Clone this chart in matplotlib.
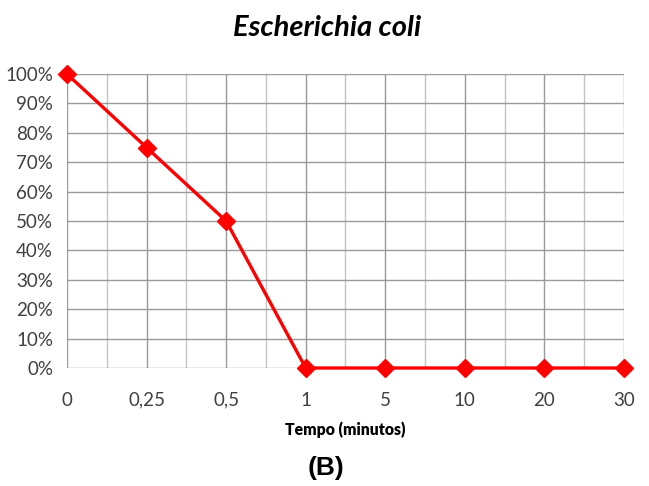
import matplotlib
matplotlib.use("Agg")
import matplotlib.pyplot as plt
from matplotlib.ticker import PercentFormatter, MultipleLocator

# data
tempo = ["0", "0,25", "0,5", "1", "5", "10", "20", "30"]
sobrevivencia = [1.00, 0.75, 0.50, 0.0, 0.0, 0.0, 0.0, 0.0]

narrow = ["Lato", "DejaVu Sans"]

fig = plt.figure(figsize=(6.49, 4.86), dpi=100)
ax = fig.add_axes([0.1032, 0.2428, 0.8582, 0.6049])

x = list(range(len(tempo)))
ax.plot(x, sobrevivencia, color="#ff0000", lw=2.4, marker="D", ms=9,
        mec="#ff0000", mfc="#ff0000", zorder=3, clip_on=False)

ax.set_xlim(0, len(tempo) - 1)
ax.set_ylim(0, 1)
ax.set_xticks(x)
ax.set_xticklabels(tempo)
ax.xaxis.set_minor_locator(MultipleLocator(0.5))
ax.yaxis.set_major_locator(MultipleLocator(0.1))
ax.yaxis.set_major_formatter(PercentFormatter(1.0, decimals=0))

ax.grid(True, which="major", color="#9a9a9a", lw=1)
ax.grid(True, which="minor", axis="x", color="#c4c4c4", lw=1)
for s in ax.spines.values():
    s.set_visible(False)
ax.tick_params(which="both", length=0)
ax.tick_params(axis="x", pad=17)
ax.tick_params(axis="y", pad=10)
for lab in ax.get_xticklabels() + ax.get_yticklabels():
    lab.set_family(narrow)
    lab.set_fontsize(13.5)
    lab.set_color("#404040")

fig.text(0.504, 0.943, "Escherichia coli", ha="center", va="center",
         family=narrow, fontsize=21, fontweight="bold", style="italic")
ax.set_xlabel("Tempo (minutos)", family=narrow, fontsize=11.3,
              fontweight="heavy", labelpad=9)
fig.text(0.503, 0.038, "(B)", ha="center", va="center",
         family="Liberation Sans", fontsize=19, fontweight="bold")

fig.savefig("out.png", dpi=100)
